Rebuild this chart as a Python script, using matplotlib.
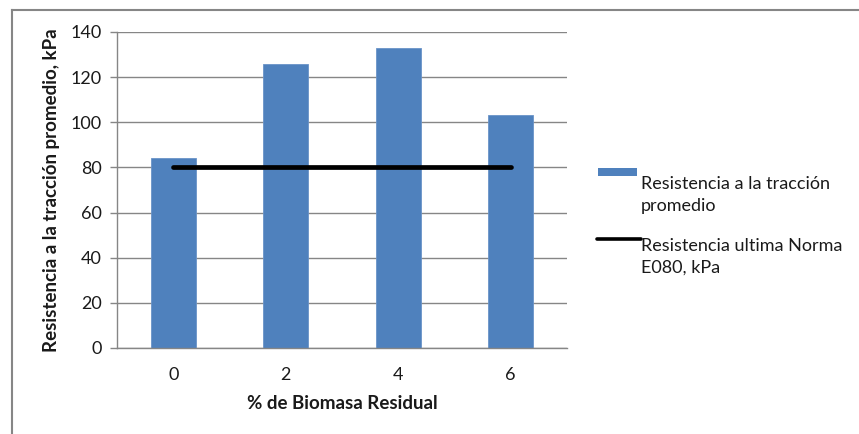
import matplotlib
matplotlib.use("Agg")
import matplotlib.pyplot as plt
from matplotlib.lines import Line2D
from matplotlib.patches import Rectangle

# Data
biomasa = ["0", "2", "4", "6"]
resistencia = [84.2, 126.0, 132.8, 103.3]
norma_e080 = [80, 80, 80, 80]
y_ticks = [0, 20, 40, 60, 80, 100, 120, 140]

bar_label = "Resistencia a la tracción\npromedio"
line_label = "Resistencia ultima Norma\nE080, kPa"

plt.rcParams["font.family"] = ["Lato", "DejaVu Sans"]

W, H = 859, 434
fig = plt.figure(figsize=(W / 100, H / 100), dpi=100)

# plot area in pixel terms
left, right, top, bottom = 117, 567, 32, 348
ax = fig.add_axes([left / W, 1 - bottom / H, (right - left) / W, (bottom - top) / H])

bar_color = "#4F81BD"
grid_color = "#868686"
text_color = "#1a1a1a"

x = list(range(len(biomasa)))
ax.bar(x, resistencia, width=0.4, color=bar_color, edgecolor="#6A93C8",
       linewidth=0.6, zorder=2)
ax.plot(x, norma_e080, color="black", linewidth=3.4, solid_capstyle="round", zorder=3)

ax.set_xlim(-0.5, len(biomasa) - 0.5)
ax.set_ylim(0, 140)
ax.set_yticks(y_ticks)
ax.set_xticks(x)
ax.set_xticklabels(biomasa)

ax.yaxis.grid(True, color=grid_color, linewidth=1.0, zorder=0)
ax.set_axisbelow(True)
for s in ["top", "right"]:
    ax.spines[s].set_visible(False)
for s in ["left", "bottom"]:
    ax.spines[s].set_color(grid_color)
    ax.spines[s].set_linewidth(1.0)

ax.tick_params(axis="y", length=5, width=1.0, color=grid_color, pad=6,
               labelsize=13, labelcolor=text_color)
ax.tick_params(axis="x", length=0, pad=14, labelsize=13, labelcolor=text_color)

ax.set_xlabel("% de Biomasa Residual", fontsize=13.5, fontweight="bold",
              labelpad=8, color=text_color)
ax.set_ylabel("Resistencia a la tracción promedio, kPa", fontsize=13.5,
              fontweight="bold", color=text_color)
ax.yaxis.set_label_coords(-0.126, 0.5)


def fx(px):
    return px / W


def fy(py):
    return 1 - py / H


# legend
fig.add_artist(Rectangle((fx(598), fy(176)), fx(637) - fx(598), fy(168) - fy(176),
                         transform=fig.transFigure, facecolor=bar_color, edgecolor="none"))
fig.text(fx(641), fy(195), bar_label, fontsize=13, ha="left", va="center",
         linespacing=1.45, color=text_color)
fig.add_artist(Line2D([fx(597), fx(641)], [fy(239), fy(239)], transform=fig.transFigure,
                      color="black", linewidth=2.6, solid_capstyle="round"))
fig.text(fx(641), fy(257), line_label, fontsize=13, ha="left", va="center",
         linespacing=1.45, color=text_color)

# chart frame
fig.add_artist(Line2D([fx(12), fx(12)], [fy(10), 0], transform=fig.transFigure,
                      color=grid_color, linewidth=1.5))
fig.add_artist(Line2D([fx(12), 1], [fy(10), fy(10)], transform=fig.transFigure,
                      color=grid_color, linewidth=1.5))

fig.savefig("out.png", dpi=100)
